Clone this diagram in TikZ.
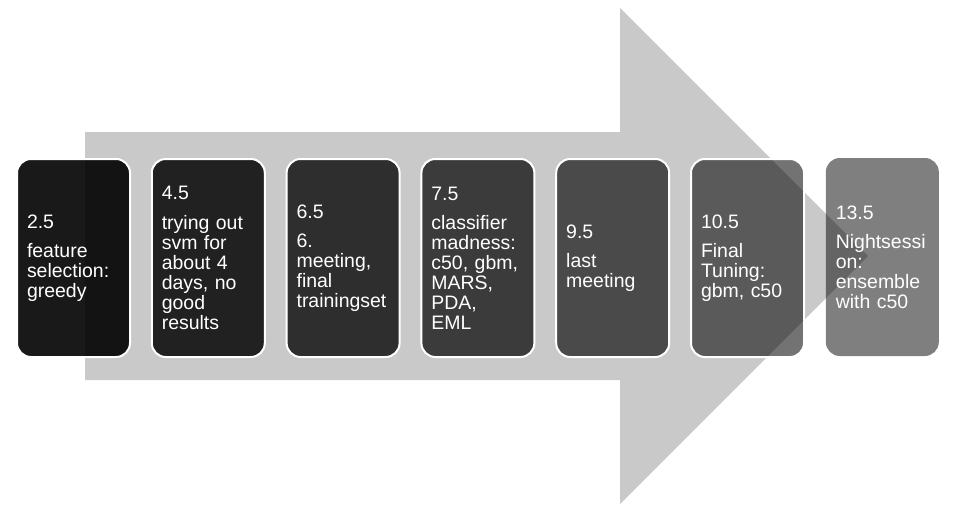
\documentclass[tikz,border=0pt]{standalone}
\usepackage{fontspec}
\setmainfont{Liberation Sans}
\begin{document}
\begin{tikzpicture}[x=0.75pt,y=-0.75pt,
  stepbox/.style={rectangle, rounded corners=10.5pt, fill=black, text=white,
    text opacity=1, draw=white, line width=1.5pt,
    minimum width=84.75pt, minimum height=148.5pt,
    text width=69.75pt, inner xsep=7.5pt, inner ysep=0pt, align=left,
    font=\fontsize{14.6}{15}\selectfont},
  arrowbody/.style={fill=black!21, draw=none}]
\useasboundingbox (0,0) rectangle (975,525);
\fill[arrowbody] (85,132) -- (620,132) -- (620,8) -- (868,256) -- (620,504) -- (620,380) -- (85,380) -- cycle;
\node[stepbox, fill opacity=0.9]  (b1) at (73.5,258)  {2.5\\[7pt]feature\\selection:\\greedy};
\node[stepbox, fill opacity=0.83] (b2) at (208.3,258) {4.5\\[7pt]trying out\\svm for\\about 4\\days, no\\good\\results};
\node[stepbox, fill opacity=0.77] (b3) at (343.1,258) {6.5\\[7pt]6.\\meeting,\\final\\trainingset};
\node[stepbox, fill opacity=0.70] (b4) at (477.9,258) {7.5\\[7pt]classifier\\madness:\\c50, gbm,\\MARS,\\PDA,\\EML};
\node[stepbox, fill opacity=0.63] (b5) at (612.7,258) {9.5\\[7pt]last\\meeting};
\node[stepbox, fill opacity=0.55] (b6) at (747.5,258) {10.5\\[7pt]Final\\Tuning:\\gbm, c50};
\node[stepbox, fill opacity=0.50, draw=none] (b7) at (882.3,257) {13.5\\[7pt]Nightsessi\\on:\\ensemble\\with c50};
\end{tikzpicture}
\end{document}
